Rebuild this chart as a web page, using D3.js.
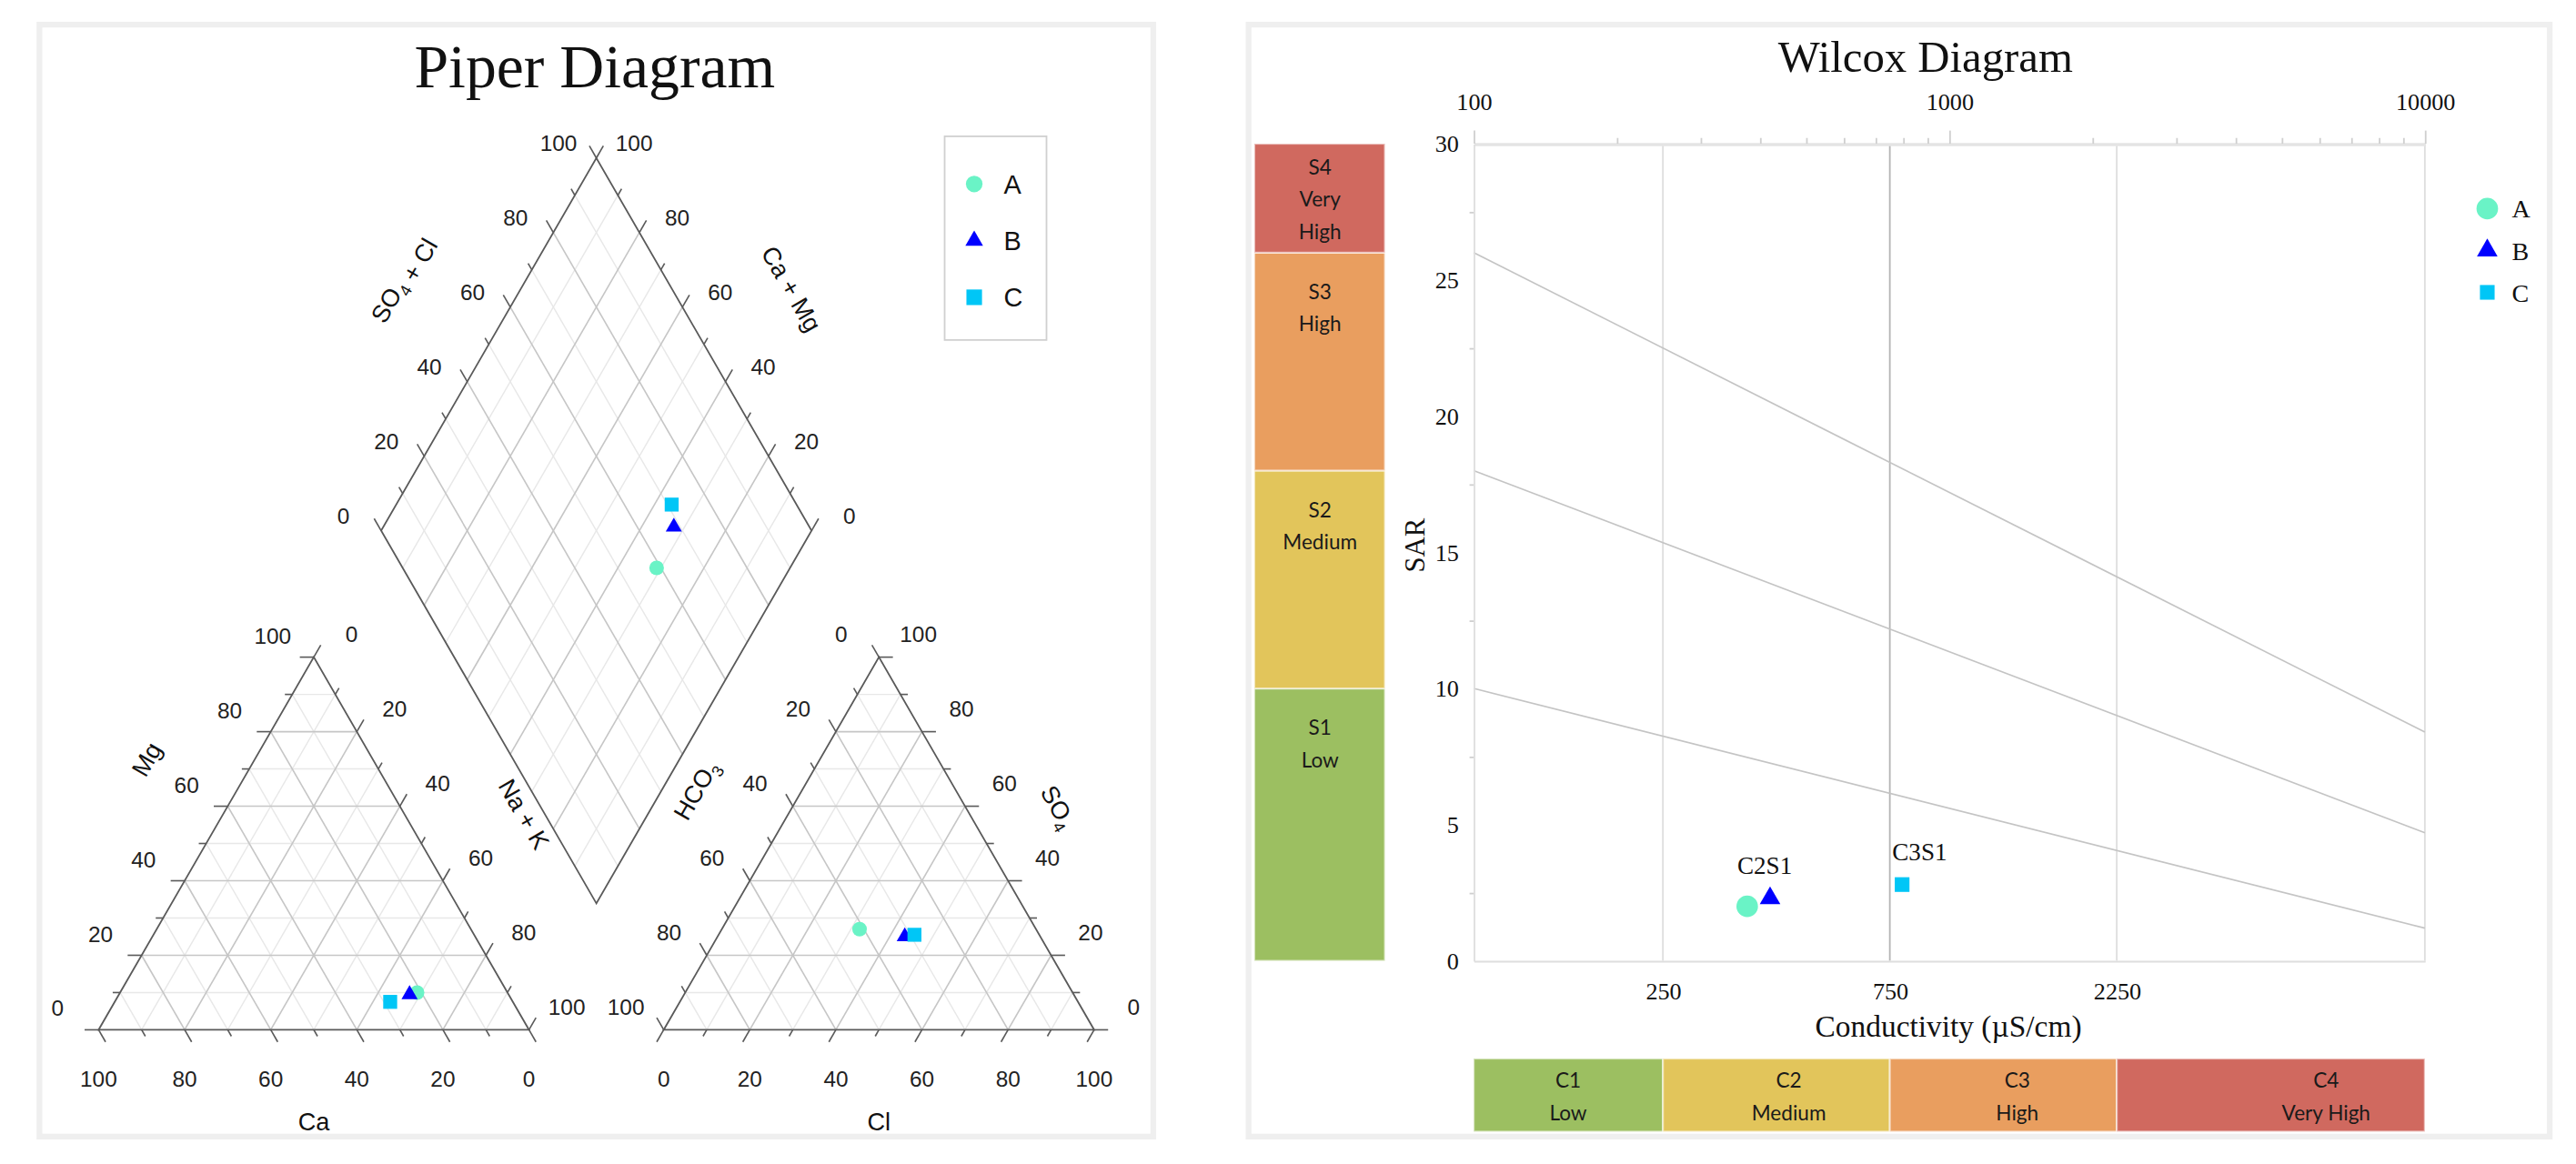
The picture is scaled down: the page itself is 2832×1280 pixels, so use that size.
<!DOCTYPE html>
<html>
<head>
<meta charset="utf-8">
<script src="https://cdn.jsdelivr.net/npm/d3@7"></script>
<style>
body { margin: 0; background: #fff; }
svg { display: block; }
</style>
</head>
<body>
<div id="chart-area"></div>
<script>
/*
*    piper + wilcox
*/

// samples
var samples = ["A", "B", "C"]

// cations, % meq/L
var ca  = [21, 23, 28.5]
var mg  = [10, 9.5, 7.5]
var naK = [69, 67.5, 64]

// anions, % meq/L
var hco3 = [41, 31.5, 29]
var cl   = [32, 43.5, 45.5]
var so4  = [27, 25, 25.5]

// wilcox
var ec  = [376, 420, 796]      // uS/cm
var sar = [2.0, 2.3, 2.8]

// ticks and classes
var ternTicks = [0, 20, 40, 60, 80, 100]
var ecMajor = [100, 1000, 10000]
var ecBounds = [100, 250, 750, 2250, 10000]
var sarTicks = [0, 5, 10, 15, 20, 25, 30]
var sBounds = [0, 10, 18, 26, 30]
var sLineStart = [10, 18, 26]     // SAR at 100 uS/cm
var sLineEnd = [1.2, 4.7, 8.4]    // SAR at 10000 uS/cm
var cCodes = ["C1", "C2", "C3", "C4"]
var sCodes = ["S1", "S2", "S3", "S4"]
var classNames = ["Low", "Medium", "High", "Very High"]

var W = 1568, H = 708.7

var svg = d3.select("#chart-area").append("svg")
    .attr("width", 2832)
    .attr("height", 1280)
    .attr("viewBox", "0 0 " + W + " " + H)

svg.append("rect").attr("width", W).attr("height", H).attr("fill", "#fff")

// panel frames
svg.append("rect")
    .attr("x", 24).attr("y", 15).attr("width", 678).attr("height", 677)
    .attr("fill", "none").attr("stroke", "#efefef").attr("stroke-width", 3.5)
svg.append("rect")
    .attr("x", 760).attr("y", 15).attr("width", 792).attr("height", 677)
    .attr("fill", "none").attr("stroke", "#efefef").attr("stroke-width", 3.5)

var color = d3.scaleOrdinal().domain(samples).range(["#6af3c6", "#0000ff", "#00c6f6"])
var shape = d3.scaleOrdinal().domain(samples).range([d3.symbolCircle, d3.symbolTriangle, d3.symbolSquare])
var sansF = "'Liberation Sans', Arial, sans-serif"
var serifF = "'Liberation Serif', 'Times New Roman', serif"

/* ---------------- Piper ---------------- */

var pg = svg.append("g")
var pct = d3.scaleLinear().domain([0, 100]).range([0, 1])

var side = 262
var hT = side * Math.sqrt(3) / 2
var baseY = 627
var catV = {L: [60, baseY], R: [60 + side, baseY], T: [60 + side / 2, baseY - hT]}
var anV = {L: [404, baseY], R: [404 + side, baseY], T: [404 + side / 2, baseY - hT]}
var dB = [363, 550], dL = [363 - side / 2, 550 - hT], dR = [363 + side / 2, 550 - hT]

function triPos(V) {
    return function(c) {
        var t = c[0] + c[1] + c[2]
        return [(c[0] * V.L[0] + c[1] * V.R[0] + c[2] * V.T[0]) / t,
                (c[0] * V.L[1] + c[1] * V.R[1] + c[2] * V.T[1]) / t]
    }
}
function diaPos(c) {
    return [dB[0] + c[0] * (dL[0] - dB[0]) + c[1] * (dR[0] - dB[0]),
            dB[1] + c[0] * (dL[1] - dB[1]) + c[1] * (dR[1] - dB[1])]
}

var catAxes = [
    {at: k => [k, 1 - k, 0], other: k => [k, 0, 1 - k], off: [0, 30]},        // Ca
    {at: k => [1 - k, 0, k], other: k => [0, 1 - k, k], off: [-25, -13]},     // Mg
    {at: k => [0, k, 1 - k], other: k => [1 - k, k, 0], off: [23, -14]}       // Na+K
]
var anAxes = [
    {at: k => [1 - k, k, 0], other: k => [0, k, 1 - k], off: [0, 30]},        // Cl
    {at: k => [k, 0, 1 - k], other: k => [k, 1 - k, 0], off: [-23, -14]},     // HCO3
    {at: k => [0, 1 - k, k], other: k => [1 - k, 0, k], off: [24, -14]}       // SO4
]
var diaAxes = [
    {at: k => [k, 1], other: k => [k, 0], off: [23, -9]},                     // Ca+Mg
    {at: k => [1, k], other: k => [0, k], off: [-23, -9]}                     // SO4+Cl
]

function drawFrame(g, pos, axes, outline) {
    var steps = d3.range(10, 100, 10)
    ;[false, true].forEach(function(major) {
        axes.forEach(function(ax) {
            g.selectAll(null)
                .data(steps.filter(k => (k % 20 === 0) === major))
                .enter().append("line")
                .attr("x1", k => pos(ax.at(pct(k)))[0])
                .attr("y1", k => pos(ax.at(pct(k)))[1])
                .attr("x2", k => pos(ax.other(pct(k)))[0])
                .attr("y2", k => pos(ax.other(pct(k)))[1])
                .attr("stroke", major ? "#c6c6c6" : "#e8e8e8")
                .attr("stroke-width", major ? 0.9 : 0.8)
        })
    })

    g.append("path")
        .attr("d", d3.line()(outline.map(pos)) + "Z")
        .attr("fill", "none")
        .attr("stroke", "#5a5a5a")
        .attr("stroke-width", 1)

    axes.forEach(function(ax) {
        var a = pos(ax.at(0.5)), b = pos(ax.other(0.5))
        var dx = a[0] - b[0], dy = a[1] - b[1], n = Math.hypot(dx, dy)
        dx /= n; dy /= n
        g.selectAll(null)
            .data(d3.range(0, 101, 10))
            .enter().append("line")
            .attr("x1", k => pos(ax.at(pct(k)))[0])
            .attr("y1", k => pos(ax.at(pct(k)))[1])
            .attr("x2", k => pos(ax.at(pct(k)))[0] + dx * (k % 20 ? 4.5 : 8.5))
            .attr("y2", k => pos(ax.at(pct(k)))[1] + dy * (k % 20 ? 4.5 : 8.5))
            .attr("stroke", "#5a5a5a")
            .attr("stroke-width", 0.9)

        g.selectAll(null)
            .data(ternTicks)
            .enter().append("text")
            .attr("x", k => pos(ax.at(pct(k)))[0] + ax.off[0])
            .attr("y", k => pos(ax.at(pct(k)))[1] + ax.off[1])
            .attr("dy", "0.35em")
            .attr("text-anchor", "middle")
            .attr("font-family", sansF)
            .attr("font-size", 13.5)
            .attr("fill", "#222")
            .text(k => k)
    })
}

drawFrame(pg.append("g"), diaPos, diaAxes, [[0, 0], [1, 0], [1, 1], [0, 1]])
drawFrame(pg.append("g"), triPos(catV), catAxes, [[1, 0, 0], [0, 1, 0], [0, 0, 1]])
drawFrame(pg.append("g"), triPos(anV), anAxes, [[1, 0, 0], [0, 1, 0], [0, 0, 1]])

// axis titles along edges
function edgeTitle(p0, p1, t, d, rot, parts) {
    var dx = p1[0] - p0[0], dy = p1[1] - p0[1], n = Math.hypot(dx, dy)
    var px = p0[0] + dx * t + d * dy / n
    var py = p0[1] + dy * t - d * dx / n
    var txt = pg.append("text")
        .attr("transform", "translate(" + px + "," + py + ") rotate(" + rot + ")")
        .attr("text-anchor", "middle")
        .attr("dy", "0.35em")
        .attr("font-family", sansF)
        .attr("font-size", 15)
        .attr("fill", "#111")
    parts.forEach(function(p) {
        if (p.sub) {
            txt.append("tspan").attr("font-size", 10).attr("dy", 4).text(p.t)
            txt.append("tspan").attr("dy", -4).text("")
        } else {
            txt.append("tspan").text(p.t)
        }
    })
}
edgeTitle(catV.L, catV.T, 0.60, 57, -60, [{t: "Mg"}])
edgeTitle(catV.T, catV.R, 0.56, 63, 60, [{t: "Na + K"}])
edgeTitle(anV.L, anV.T, 0.52, 56, -60, [{t: "HCO"}, {t: "3", sub: true}])
edgeTitle(anV.T, anV.R, 0.51, 49, 60, [{t: "SO"}, {t: "4", sub: true}])
edgeTitle(dL, [dB[0], dB[1] - 2 * hT], 0.53, 66, -60, [{t: "SO"}, {t: "4", sub: true}, {t: " + Cl"}])
edgeTitle([dB[0], dB[1] - 2 * hT], dR, 0.49, 63, 60, [{t: "Ca + Mg"}])

pg.append("text").attr("x", catV.T[0]).attr("y", baseY + 56).attr("dy", "0.35em")
    .attr("text-anchor", "middle").attr("font-family", sansF).attr("font-size", 15).attr("fill", "#111")
    .text("Ca")
pg.append("text").attr("x", anV.T[0]).attr("y", baseY + 56).attr("dy", "0.35em")
    .attr("text-anchor", "middle").attr("font-family", sansF).attr("font-size", 15).attr("fill", "#111")
    .text("Cl")

pg.append("text")
    .attr("x", 362).attr("y", 53)
    .attr("text-anchor", "middle")
    .attr("font-family", serifF)
    .attr("font-size", 37.5)
    .attr("fill", "#111")
    .text("Piper Diagram")

// points
var catPos = triPos(catV), anPos = triPos(anV)
var piperPts = []
samples.forEach(function(s, i) {
    piperPts.push({s: s, p: catPos([ca[i], naK[i], mg[i]])})
    piperPts.push({s: s, p: anPos([hco3[i], cl[i], so4[i]])})
    piperPts.push({s: s, p: diaPos([pct(ca[i] + mg[i]), pct(so4[i] + cl[i])])})
})
pg.selectAll(".pt")
    .data(piperPts)
    .enter().append("path")
    .attr("class", "pt")
    .attr("transform", d => "translate(" + d.p[0] + "," + d.p[1] + ")")
    .attr("d", d => d3.symbol().type(shape(d.s)).size(d.s === "A" ? 62 : d.s === "B" ? 42 : 72)())
    .attr("fill", d => color(d.s))

// legend
var pl = pg.append("g")
pl.append("rect")
    .attr("x", 575).attr("y", 83).attr("width", 62).attr("height", 124)
    .attr("fill", "#fff").attr("stroke", "#d0d0d0").attr("stroke-width", 1)
var ply = d3.scalePoint().domain(samples).range([112, 181])
pl.selectAll(".lm")
    .data(samples)
    .enter().append("path")
    .attr("transform", d => "translate(593," + ply(d) + ")")
    .attr("d", d => d3.symbol().type(shape(d)).size(d === "A" ? 80 : d === "B" ? 50 : 90)())
    .attr("fill", d => color(d))
pl.selectAll(".lt")
    .data(samples)
    .enter().append("text")
    .attr("x", 611).attr("y", d => ply(d)).attr("dy", "0.36em")
    .attr("font-family", sansF).attr("font-size", 16).attr("fill", "#111")
    .text(d => d)

/* ---------------- Wilcox ---------------- */

var wg = svg.append("g")
var x = d3.scaleLog().domain([100, 10000]).range([897, 1476])
var y = d3.scaleLinear().domain([0, 30]).range([585, 87.5])
var classColor = d3.scaleOrdinal().domain([0, 1, 2, 3]).range(["#9cbf61", "#e2c55b", "#e99e5f", "#d0695f"])

wg.append("text")
    .attr("x", 1172).attr("y", 44)
    .attr("text-anchor", "middle")
    .attr("font-family", serifF).attr("font-size", 27).attr("fill", "#111")
    .text("Wilcox Diagram")

// grid
wg.selectAll(".vg")
    .data(ecBounds.slice(1, -1).concat([10000]))
    .enter().append("line")
    .attr("x1", d => x(d)).attr("x2", d => x(d))
    .attr("y1", y(30)).attr("y2", y(0))
    .attr("stroke", d => d === 750 ? "#b4b4b4" : "#dedede")
    .attr("stroke-width", 1)

// class boundary lines
wg.selectAll(".sl")
    .data(sLineStart)
    .enter().append("line")
    .attr("x1", x(100)).attr("y1", d => y(d))
    .attr("x2", x(10000)).attr("y2", (d, i) => y(sLineEnd[i]))
    .attr("stroke", "#c4c4c4")
    .attr("stroke-width", 0.9)

// top axis
var topAxis = d3.axisTop(x)
    .tickValues(x.ticks())
    .tickSizeInner(3.5)
    .tickSizeOuter(0)
    .tickPadding(17)
    .tickFormat(d => ecMajor.indexOf(d) >= 0 ? d : "")
var ta = wg.append("g").attr("transform", "translate(0," + y(30) + ")").call(topAxis)
ta.select(".domain").attr("stroke", "#e4e4e4").attr("stroke-width", 2)
ta.selectAll(".tick line").attr("stroke", "#cfcfcf")
    .attr("y2", d => ecMajor.indexOf(d) >= 0 ? -8 : -3.5)
ta.selectAll("text").attr("font-family", serifF).attr("font-size", 14.5).attr("fill", "#111")

// left axis
var leftAxis = d3.axisLeft(y).tickValues(sarTicks).tickSize(0).tickPadding(9)
var la = wg.append("g").attr("transform", "translate(" + x(100) + ",0)").call(leftAxis)
la.select(".domain").attr("stroke", "#dedede")
la.selectAll("text").attr("font-family", serifF).attr("font-size", 14.5).attr("fill", "#111")
var minorAxis = d3.axisLeft(y).tickValues(d3.range(2.5, 30, 5)).tickSize(2.5).tickFormat("")
var ma = wg.append("g").attr("transform", "translate(" + x(100) + ",0)").call(minorAxis)
ma.select(".domain").remove()
ma.selectAll("line").attr("stroke", "#cfcfcf")

// bottom axis
var bottomAxis = d3.axisBottom(x).tickValues(ecBounds.slice(1, -1)).tickSize(0).tickPadding(13).tickFormat(d => d)
var ba = wg.append("g").attr("transform", "translate(0," + y(0) + ")").call(bottomAxis)
ba.select(".domain").attr("stroke", "#dedede")
ba.selectAll("text").attr("font-family", serifF).attr("font-size", 14.5).attr("fill", "#111")

wg.append("text")
    .attr("x", 1186).attr("y", 631)
    .attr("text-anchor", "middle")
    .attr("font-family", serifF).attr("font-size", 18.5).attr("fill", "#111")
    .text("Conductivity (\u00b5S/cm)")
wg.append("text")
    .attr("transform", "translate(867,332) rotate(-90)")
    .attr("text-anchor", "middle")
    .attr("font-family", serifF).attr("font-size", 17).attr("fill", "#111")
    .text("SAR")

// S bar
var sIdx = d3.range(sCodes.length)
wg.selectAll(".sb")
    .data(sIdx)
    .enter().append("rect")
    .attr("x", 763.5).attr("width", 79.5)
    .attr("y", i => y(sBounds[i + 1]))
    .attr("height", i => y(sBounds[i]) - y(sBounds[i + 1]))
    .attr("fill", i => classColor(i))
    .attr("stroke", "rgba(255,255,255,0.55)").attr("stroke-width", 1.2)
sIdx.forEach(function(i) {
    var lines = [sCodes[i]].concat(classNames[i].split(" "))
    var top = y(sBounds[i + 1])
    wg.selectAll(null)
        .data(lines)
        .enter().append("text")
        .attr("x", 803.5)
        .attr("y", (d, j) => top + 24 - (lines.length - 2) * 9.5 + j * 19.5)
        .attr("dy", "0.35em")
        .attr("text-anchor", "middle")
        .attr("font-family", "Lato, 'Liberation Sans', sans-serif").attr("font-size", 12.5).attr("fill", "#1a1a1a")
        .text(d => d)
})

// C bar
var cTextAt = [158, 460, 1390, 6200]
var cIdx = d3.range(cCodes.length)
wg.selectAll(".cb")
    .data(cIdx)
    .enter().append("rect")
    .attr("x", i => x(ecBounds[i]))
    .attr("width", i => x(ecBounds[i + 1]) - x(ecBounds[i]))
    .attr("y", 644.5).attr("height", 44.5)
    .attr("fill", i => classColor(i))
    .attr("stroke", "rgba(255,255,255,0.55)").attr("stroke-width", 1.2)
cIdx.forEach(function(i) {
    wg.selectAll(null)
        .data([cCodes[i], classNames[i]])
        .enter().append("text")
        .attr("x", x(cTextAt[i]))
        .attr("y", (d, j) => 658 + j * 19.5)
        .attr("dy", "0.35em")
        .attr("text-anchor", "middle")
        .attr("font-family", "Lato, 'Liberation Sans', sans-serif").attr("font-size", 12.5).attr("fill", "#1a1a1a")
        .text(d => d)
})

// points
var wpts = samples.map((s, i) => ({s: s, e: ec[i], v: sar[i]}))
var wsize = {A: 135, B: 68, C: 80}
wg.selectAll(".wp")
    .data(wpts)
    .enter().append("path")
    .attr("transform", d => "translate(" + x(d.e) + "," + y(d.v) + ")")
    .attr("d", d => d3.symbol().type(shape(d.s)).size(wsize[d.s])())
    .attr("fill", d => color(d.s))

// class labels (grouped)
var sLines = sLineStart.map((v, i) => d3.scaleLog().domain([100, 10000]).range([v, sLineEnd[i]]))
function klass(d) {
    var c = d3.bisectRight(ecBounds, d.e) - 1
    var s = sLines.filter(f => d.v > f(d.e)).length
    return cCodes[c] + sCodes[s]
}
var groups = d3.groups(wpts, klass)
wg.selectAll(".cl")
    .data(groups)
    .enter().append("text")
    .attr("x", g => d3.min(g[1], d => x(d.e)) - 6)
    .attr("y", g => d3.min(g[1], d => y(d.v)) - 15)
    .attr("font-family", serifF).attr("font-size", 15).attr("fill", "#111")
    .text(g => g[0])

// legend
var wly = d3.scalePoint().domain(samples).range([127, 178])
wg.selectAll(".wl")
    .data(samples)
    .enter().append("path")
    .attr("transform", d => "translate(1514," + wly(d) + ")")
    .attr("d", d => d3.symbol().type(shape(d)).size(wsize[d])())
    .attr("fill", d => color(d))
wg.selectAll(".wlt")
    .data(samples)
    .enter().append("text")
    .attr("x", 1529).attr("y", d => wly(d)).attr("dy", "0.36em")
    .attr("font-family", serifF).attr("font-size", 15.5).attr("fill", "#111")
    .text(d => d)
</script>
</body>
</html>
